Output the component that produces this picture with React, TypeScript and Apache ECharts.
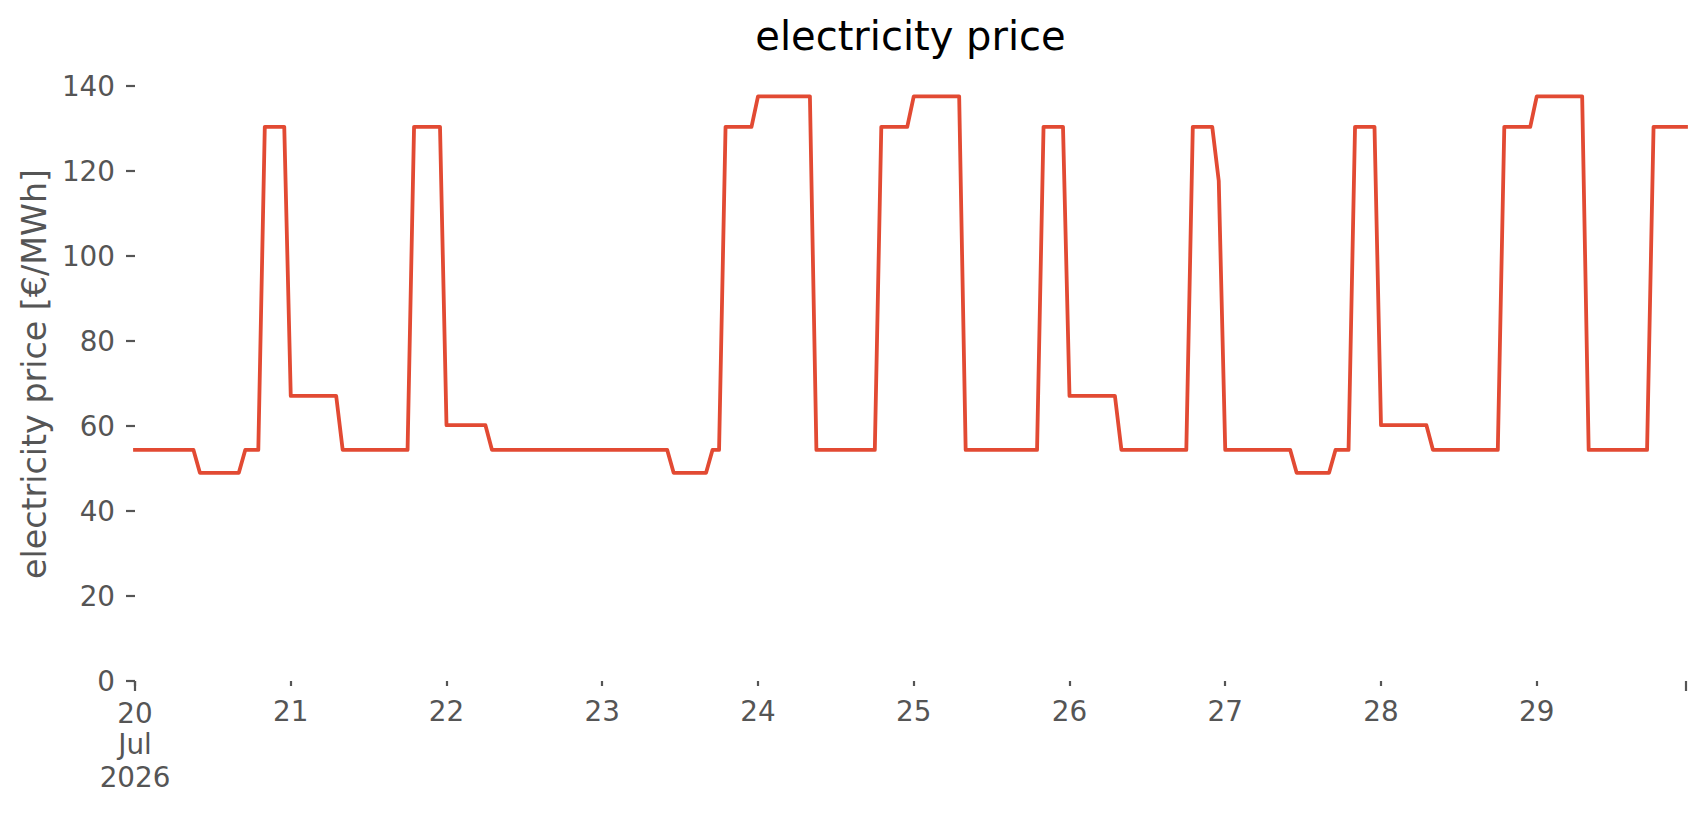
import React, { useEffect, useRef } from 'react';
import * as echarts from 'echarts';

// hourly time index starts 20 Jul 2026 00:00 (UTC)
const START = Date.UTC(2026, 6, 20);
const HOUR = 3600 * 1000;
const DAY = 24 * HOUR;

// hourly electricity prices [€/MWh], one array per day (00:00 .. 23:00)
const PRICE_JUL20 = [54.4, 54.4, 54.4, 54.4, 54.4, 54.4, 54.4, 54.4, 54.4, 54.4, 49.0, 49.0, 49.0, 49.0, 49.0, 49.0, 49.0, 54.4, 54.4, 54.4, 130.4, 130.4, 130.4, 130.4];
const PRICE_JUL21 = [67.1, 67.1, 67.1, 67.1, 67.1, 67.1, 67.1, 67.1, 54.4, 54.4, 54.4, 54.4, 54.4, 54.4, 54.4, 54.4, 54.4, 54.4, 54.4, 130.4, 130.4, 130.4, 130.4, 130.4];
const PRICE_JUL22 = [60.2, 60.2, 60.2, 60.2, 60.2, 60.2, 60.2, 54.4, 54.4, 54.4, 54.4, 54.4, 54.4, 54.4, 54.4, 54.4, 54.4, 54.4, 54.4, 54.4, 54.4, 54.4, 54.4, 54.4];
const PRICE_JUL23 = [54.4, 54.4, 54.4, 54.4, 54.4, 54.4, 54.4, 54.4, 54.4, 54.4, 54.4, 49.0, 49.0, 49.0, 49.0, 49.0, 49.0, 54.4, 54.4, 130.4, 130.4, 130.4, 130.4, 130.4];
const PRICE_JUL24 = [137.6, 137.6, 137.6, 137.6, 137.6, 137.6, 137.6, 137.6, 137.6, 54.4, 54.4, 54.4, 54.4, 54.4, 54.4, 54.4, 54.4, 54.4, 54.4, 130.4, 130.4, 130.4, 130.4, 130.4];
const PRICE_JUL25 = [137.6, 137.6, 137.6, 137.6, 137.6, 137.6, 137.6, 137.6, 54.4, 54.4, 54.4, 54.4, 54.4, 54.4, 54.4, 54.4, 54.4, 54.4, 54.4, 54.4, 130.4, 130.4, 130.4, 130.4];
const PRICE_JUL26 = [67.1, 67.1, 67.1, 67.1, 67.1, 67.1, 67.1, 67.1, 54.4, 54.4, 54.4, 54.4, 54.4, 54.4, 54.4, 54.4, 54.4, 54.4, 54.4, 130.4, 130.4, 130.4, 130.4, 117.7];
const PRICE_JUL27 = [54.4, 54.4, 54.4, 54.4, 54.4, 54.4, 54.4, 54.4, 54.4, 54.4, 54.4, 49.0, 49.0, 49.0, 49.0, 49.0, 49.0, 54.4, 54.4, 54.4, 130.4, 130.4, 130.4, 130.4];
const PRICE_JUL28 = [60.2, 60.2, 60.2, 60.2, 60.2, 60.2, 60.2, 60.2, 54.4, 54.4, 54.4, 54.4, 54.4, 54.4, 54.4, 54.4, 54.4, 54.4, 54.4, 130.4, 130.4, 130.4, 130.4, 130.4];
const PRICE_JUL29 = [137.6, 137.6, 137.6, 137.6, 137.6, 137.6, 137.6, 137.6, 54.4, 54.4, 54.4, 54.4, 54.4, 54.4, 54.4, 54.4, 54.4, 54.4, 130.4, 130.4, 130.4, 130.4, 130.4, 130.4];

const DAILY_PRICES = [PRICE_JUL20, PRICE_JUL21, PRICE_JUL22, PRICE_JUL23, PRICE_JUL24, PRICE_JUL25, PRICE_JUL26, PRICE_JUL27, PRICE_JUL28, PRICE_JUL29];

const X_TICK_LABELS = ['20\nJul\n2026', '21', '22', '23', '24', '25', '26', '27', '28', '29'];
const Y_TICKS = [0, 20, 40, 60, 80, 100, 120, 140];
const Y_MAX = 144.5;

const TITLE = 'electricity price';
const Y_NAME = 'electricity price [€/MWh]';

export default function App() {
  const ref = useRef<HTMLDivElement>(null);

  useEffect(() => {
    document.body.style.margin = '0';
    const chart = echarts.init(ref.current!, null, { renderer: 'svg' });
    const prices = DAILY_PRICES.flat();
    const data = prices.map((v, i) => [START + i * HOUR, v]);
    const end = START + (prices.length - 1) * HOUR;
    const dayValues = X_TICK_LABELS.map((_, i) => START + i * DAY);
    const FONT = 'DejaVu Sans';
    const GREY = '#555555';
    const gridBox = { left: 135, right: 20, top: 67, bottom: 134, containLabel: false };
    const tickFont = 27.8;

    chart.setOption({
      animation: false,
      backgroundColor: '#ffffff',
      title: {
        text: TITLE,
        left: 910.5,
        textAlign: 'center',
        top: 16,
        padding: 0,
        textStyle: { fontSize: 40, fontWeight: 'normal', color: '#000000', fontFamily: FONT, lineHeight: 40 },
      },
      grid: [gridBox, { ...gridBox }],
      xAxis: [
        {
          type: 'value',
          gridIndex: 0,
          min: START,
          max: end,
          axisLine: { show: false },
          splitLine: { show: false },
          axisTick: { show: true, length: 5, customValues: dayValues, lineStyle: { color: GREY, width: 2.2 } },
          axisLabel: {
            customValues: dayValues,
            margin: 14,
            color: GREY,
            fontSize: tickFont,
            fontFamily: FONT,
            lineHeight: 33,
            hideOverlap: false,
            formatter: (v: number) => {
              const idx = Math.round((v - START) / DAY);
              const label = X_TICK_LABELS[idx] ?? '';
              const lines = label.split('\n');
              if (lines.length > 1) {
                return lines.map((l, i) => (i === 0 ? `{f|${l}}` : `{g|${l}}`)).join('\n');
              }
              return label;
            },
            rich: {
              f: { padding: [4, 0, 0, 0], color: GREY, fontSize: tickFont, fontFamily: FONT, lineHeight: 33 },
              g: { color: GREY, fontSize: tickFont, fontFamily: FONT, lineHeight: 33 },
            },
          },
        },
        {
          type: 'value',
          gridIndex: 1,
          min: START,
          max: end,
          axisLine: { show: false },
          splitLine: { show: false },
          axisTick: { show: true, length: 10, customValues: [START, end], lineStyle: { color: GREY, width: 2.2 } },
          axisLabel: { show: false },
        },
      ],
      yAxis: [
        {
          type: 'value',
          gridIndex: 0,
          min: 0,
          max: Y_MAX,
          axisLine: { show: false },
          splitLine: { show: false },
          axisTick: { show: true, length: 9, customValues: Y_TICKS, lineStyle: { color: GREY, width: 2.2 } },
          axisLabel: { customValues: Y_TICKS, margin: 20, color: GREY, fontSize: tickFont, fontFamily: FONT },
          name: Y_NAME,
          nameLocation: 'middle',
          nameGap: 78,
          nameRotate: 90,
          nameTextStyle: { fontSize: 33.3, color: GREY, fontFamily: FONT },
        },
        { type: 'value', gridIndex: 1, min: 0, max: Y_MAX, show: false },
      ],
      series: [
        {
          type: 'line',
          xAxisIndex: 0,
          yAxisIndex: 0,
          data,
          symbol: 'none',
          showSymbol: false,
          color: '#E24A33',
          lineStyle: { color: '#E24A33', width: 3.8, join: 'round', cap: 'square' },
        },
      ],
    });

    return () => chart.dispose();
  }, []);

  return <div ref={ref} style={{ width: 1706, height: 815 }} />;
}
